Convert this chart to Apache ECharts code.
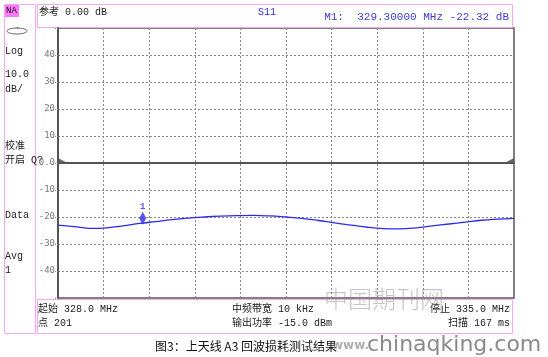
<!DOCTYPE html>
<html><head><meta charset="utf-8">
<script src="https://cdn.jsdelivr.net/npm/echarts@6/dist/echarts.min.js"></script>
<style>html,body{margin:0;padding:0;background:#fff}#c{width:548px;height:357px}</style>
</head><body><div id="c"></div>
<script>
// Frequency (MHz) and S11 return loss (dB)
const freqs = [328.0,328.25,328.5,328.75,329.0,329.25,329.5,329.75,330.0,330.25,330.5,330.75,331.0,331.25,331.5,331.75,332.0,332.25,332.5,332.75,333.0,333.25,333.5,333.75,334.0,334.25,334.5,334.75,335.0];
const s11 = [-23.0,-23.6,-24.2,-24.0,-23.3,-22.4,-21.7,-21.0,-20.4,-20.0,-19.7,-19.5,-19.4,-19.6,-20.0,-20.5,-21.3,-22.2,-23.0,-23.8,-24.3,-24.4,-24.0,-23.3,-22.6,-21.9,-21.2,-20.8,-20.5];
const startFreq = 328.0, stopFreq = 335.0;
const markerFreq = 329.3, markerVal = -22.32;
const yTicks = [-50,-40,-30,-20,-10,0,10,20,30,40,50];
const refLevel = 0;

const chart = echarts.init(document.getElementById('c'), null, {renderer:'canvas'});
const pink = '#f4a6f4';
const mono = '"Liberation Mono","DejaVu Sans Mono","Noto Sans CJK SC",monospace';
const blue = '#2a2aee';
const span = stopFreq - startFreq;

function txt(x,y,text,opt){
  return Object.assign({type:'text',left:undefined,x:x,y:y,style:Object.assign({text:text,fill:'#222',font:'10px '+mono,textVerticalAlign:'middle'},opt||{})});
}

const graphics = [
  {type:'rect',shape:{x:4.5,y:4.5,width:31,height:329},style:{fill:'none',stroke:pink,lineWidth:1}},
  {type:'rect',shape:{x:37.5,y:4.5,width:475,height:23},style:{fill:'none',stroke:pink,lineWidth:1}},
  {type:'rect',shape:{x:37.5,y:299.5,width:475,height:34},style:{fill:'none',stroke:pink,lineWidth:1}},
  {type:'rect',shape:{x:5,y:5,width:14,height:12},style:{fill:'#ff77ff'}},
  txt(6,11,'NA',{font:'9px '+mono,fill:'#111'}),
  {type:'ellipse',shape:{cx:17,cy:31,rx:10,ry:3},style:{fill:'none',stroke:'#666',lineWidth:1}},
  {type:'line',shape:{x1:17,y1:27,x2:18,y2:29},style:{stroke:'#666'}},
  txt(5,51,'Log'),
  txt(5,74,'10.0'),
  txt(5,89,'dB/'),
  txt(5,146,'校准'),
  txt(5,160,'开启 Q?'),
  txt(5,215,'Data'),
  txt(5,256,'Avg'),
  txt(5,270,'1'),
  txt(39,12,'参考 0.00 dB',{font:'10px '+mono,fill:'#222'}),
  txt(258,12,'S11',{fill:blue}),
  txt(509,17,'M1:  329.30000 MHz -22.32 dB',{fill:'#3b3bd0',font:'11px '+mono,textAlign:'right'}),
  txt(38,309,'起始 328.0 MHz'),
  txt(38,323,'点 201'),
  txt(232,309,'中频带宽 10 kHz'),
  txt(232,323,'输出功率 -15.0 dBm'),
  txt(510,309,'停止 335.0 MHz',{textAlign:'right'}),
  txt(510,323,'扫描 167 ms',{textAlign:'right'}),
  txt(324,299,'中国期刊网',{font:'300 24px "Noto Sans CJK SC"',fill:'rgba(150,150,150,0.55)'}),
  txt(155,346,'图3：上天线 A3 回波损耗测试结果',{font:'12px "Noto Sans CJK SC"',fill:'#111'}),
  txt(332,346,'www.',{font:'bold 12px "DejaVu Sans"',fill:'rgba(120,120,120,0.6)'}),
  txt(367,345,'chinaqking.com',{font:'22px "DejaVu Sans"',fill:'#8a8a8a'})
];

chart.setOption({
  animation:false,
  backgroundColor:'#fff',
  grid:{left:58,right:34,top:28,bottom:59,show:true,borderColor:'#555',borderWidth:1.5,backgroundColor:'#fff'},
  xAxis:{type:'value',min:0,max:span,interval:span/10,
    axisLine:{show:true,lineStyle:{color:'#555',width:1.5}},
    axisTick:{show:false},axisLabel:{show:false},
    splitLine:{show:true,lineStyle:{color:'#888',type:[2,2],width:1}}},
  yAxis:{type:'value',min:yTicks[0],max:yTicks[yTicks.length-1],interval:10,
    axisLine:{show:true,lineStyle:{color:'#555',width:2}},
    axisTick:{show:true,length:3,lineStyle:{color:'#888',type:[1,1]}},
    axisLabel:{margin:3,fontSize:9,color:'#777',fontFamily:'"DejaVu Sans Mono",monospace',
      formatter:v=> (v===yTicks[0]||v===yTicks[yTicks.length-1])?'':(v===0?'0.0':String(v))},
    splitLine:{show:true,lineStyle:{color:'#888',type:[2,2],width:1}}},
  series:[
    {type:'line',data:freqs.map((f,i)=>[f-startFreq,s11[i]]),showSymbol:false,smooth:0.4,
      lineStyle:{color:blue,width:1.3},itemStyle:{color:blue},
      markLine:{silent:true,symbol:['none','none'],label:{show:false},
        lineStyle:{color:'#555',width:2,type:'solid'},data:[{yAxis:refLevel}]},
      z:3},
    {type:'scatter',data:[[0,refLevel]],symbol:'path://M0,0L10,8L0,10Z',symbolSize:[9,6],symbolOffset:[4.5,-2],itemStyle:{color:'#444'},z:4},
    {type:'scatter',data:[[span,refLevel]],symbol:'path://M10,0L0,8L10,10Z',symbolSize:[9,6],symbolOffset:[-4.5,-2],itemStyle:{color:'#444'},z:4},
    {type:'scatter',data:[[markerFreq-startFreq,markerVal]],symbol:'diamond',symbolSize:[7,13],symbolOffset:[0,-5],
      itemStyle:{color:blue},z:5,
      label:{show:true,formatter:'1',position:'top',distance:1,fontSize:9,fontWeight:'bold',color:blue,fontFamily:mono}}
  ],
  graphic:graphics
});
</script></body></html>
